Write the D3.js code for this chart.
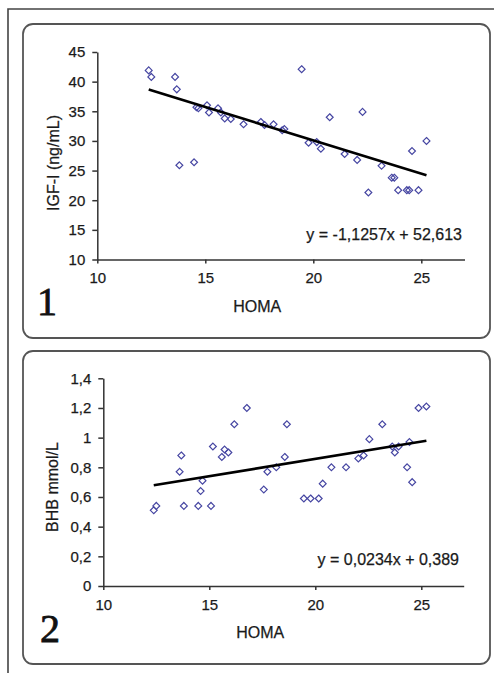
<!DOCTYPE html>
<html>
<head>
<meta charset="utf-8">
<script src="https://cdn.jsdelivr.net/npm/d3@7"></script>
<style>
  html, body { margin: 0; padding: 0; background: #fff; }
  svg { display: block; }
  .tick text { font-family: "Liberation Sans", Arial, sans-serif; font-size: 15px; fill: #1a1a1a; stroke: #1a1a1a; stroke-width: 0.25px; }
  .lbl { font-family: "Liberation Sans", Arial, sans-serif; font-size: 16px; fill: #1a1a1a; stroke: #1a1a1a; stroke-width: 0.25px; }
  .num { font-family: "Liberation Serif", "Times New Roman", serif; font-size: 40px; font-weight: normal; fill: #111; stroke: #111; stroke-width: 0.8px; }
</style>
</head>
<body>
<svg id="chart" width="494" height="673"></svg>
<script>
// ---- data ----
const homa = [12.38, 12.50, 13.60, 13.68, 13.80, 14.48, 14.59, 14.68, 15.08, 15.17,
              15.59, 15.72, 15.90, 16.18, 16.77, 17.57, 17.74, 18.16, 18.56, 18.66,
              19.46, 19.78, 20.16, 20.35, 20.76, 21.45, 22.03, 22.28, 22.55, 23.16,
              23.63, 23.75, 23.93, 24.33, 24.44, 24.57, 24.87, 25.24];
const igf = [41.9, 40.8, 40.8, 38.7, 25.9, 26.4, 35.7, 35.5, 36.0, 34.8,
             35.5, 34.8, 33.8, 33.7, 32.8, 33.2, 32.7, 32.8, 31.8, 32.0,
             42.1, 29.7, 29.8, 28.7, 34.0, 27.8, 26.8, 34.9, 21.3, 25.8,
             23.8, 23.8, 21.7, 21.7, 21.7, 28.3, 21.7, 30.0];
const bhb = [0.51, 0.54, 0.77, 0.88, 0.54, 0.54, 0.64, 0.71, 0.54, 0.94,
             0.87, 0.92, 0.90, 1.09, 1.20, 0.65, 0.77, 0.80, 0.87, 1.09,
             0.59, 0.59, 0.59, 0.69, 0.80, 0.80, 0.86, 0.88, 0.99, 1.09,
             0.94, 0.90, 0.94, 0.80, 0.97, 0.70, 1.20, 1.21];
const xTicks = [10, 15, 20, 25];
const igfTicks = [10, 15, 20, 25, 30, 35, 40, 45];
const bhbTicks = [0, 0.2, 0.4, 0.6, 0.8, 1, 1.2, 1.4];
const xTitle = "HOMA";
const yTitles = ["IGF-I (ng/mL)", "BHB mmol/L"];
const equations = ["y = -1,1257x + 52,613", "y = 0,0234x + 0,389"];
const fits = [[-1.1257, 52.613], [0.0234, 0.389]];
const panelNums = ["1", "2"];

// ---- layout ----
const svg = d3.select("#chart");
const fmt = v => String(v).replace(".", ",");

// outer frame (left + top)
svg.append("path")
  .attr("d", "M8,673 L8,9 L494,9")
  .attr("fill", "none").attr("stroke", "#444").attr("stroke-width", 1.6);

const panels = [
  { box: [23, 24, 467, 314], x: [97.3, 464.5], y: [259.5, 52], yDomain: [10, 45],
    yTicks: igfTicks, ys: igf, eqX: 462, eqY: 240, titleY: 312, yTitleX: 59,
    yTitleY: 163, numX: 37, numY: 315 },
  { box: [23, 351, 467, 313], x: [103.3, 463.7], y: [586, 378.3], yDomain: [0, 1.4],
    yTicks: bhbTicks, ys: bhb, eqX: 459, eqY: 565, titleY: 638, yTitleX: 58,
    yTitleY: 487, numX: 40, numY: 642 }
];

panels.forEach((p, i) => {
  svg.append("rect")
    .attr("x", p.box[0]).attr("y", p.box[1])
    .attr("width", p.box[2]).attr("height", p.box[3])
    .attr("rx", 10).attr("ry", 10)
    .attr("fill", "#fff").attr("stroke", "#555").attr("stroke-width", 1.8);

  const x = d3.scaleLinear().domain([10, 27]).range(p.x);
  const y = d3.scaleLinear().domain(p.yDomain).range(p.y);

  const gx = svg.append("g").attr("transform", `translate(0,${p.y[0]})`)
    .call(d3.axisBottom(x).tickValues(xTicks).tickSize(4).tickSizeOuter(0).tickPadding(9));
  const gy = svg.append("g").attr("transform", `translate(${p.x[0]},0)`)
    .call(d3.axisLeft(y).tickValues(p.yTicks).tickFormat(fmt).tickSize(5).tickSizeOuter(0).tickPadding(7));
  [gx, gy].forEach(g => {
    g.select(".domain").attr("stroke", "#333").attr("stroke-width", 1.5);
    g.selectAll(".tick line").attr("stroke", "#333").attr("stroke-width", 1.5);
    g.selectAll(".tick text").attr("font-family", null).attr("font-size", null);
  });

  // points
  const pts = homa.map((h, k) => [h, p.ys[k]]);
  svg.append("g").selectAll("path").data(pts).join("path")
    .attr("d", d3.symbol().type(d3.symbolDiamond2).size(30))
    .attr("transform", d => `translate(${x(d[0])},${y(d[1])})`)
    .attr("fill", "none").attr("stroke", "#4646a2").attr("stroke-width", 1.2);

  // trendline
  const [m, b] = fits[i];
  const x0 = d3.min(homa), x1 = d3.max(homa);
  svg.append("line")
    .attr("x1", x(x0)).attr("y1", y(m * x0 + b))
    .attr("x2", x(x1)).attr("y2", y(m * x1 + b))
    .attr("stroke", "#000").attr("stroke-width", 2.6);

  // equation
  svg.append("text").attr("class", "lbl")
    .attr("x", p.eqX).attr("y", p.eqY).attr("text-anchor", "end")
    .text(equations[i]);

  // titles
  svg.append("text").attr("class", "lbl")
    .attr("x", x(17.4)).attr("y", p.titleY).attr("text-anchor", "middle")
    .text(xTitle);
  svg.append("text").attr("class", "lbl")
    .attr("transform", `translate(${p.yTitleX},${p.yTitleY}) rotate(-90)`)
    .attr("text-anchor", "middle")
    .text(yTitles[i]);

  svg.append("text").attr("class", "num")
    .attr("x", p.numX).attr("y", p.numY)
    .text(panelNums[i]);
});
</script>
</body>
</html>
